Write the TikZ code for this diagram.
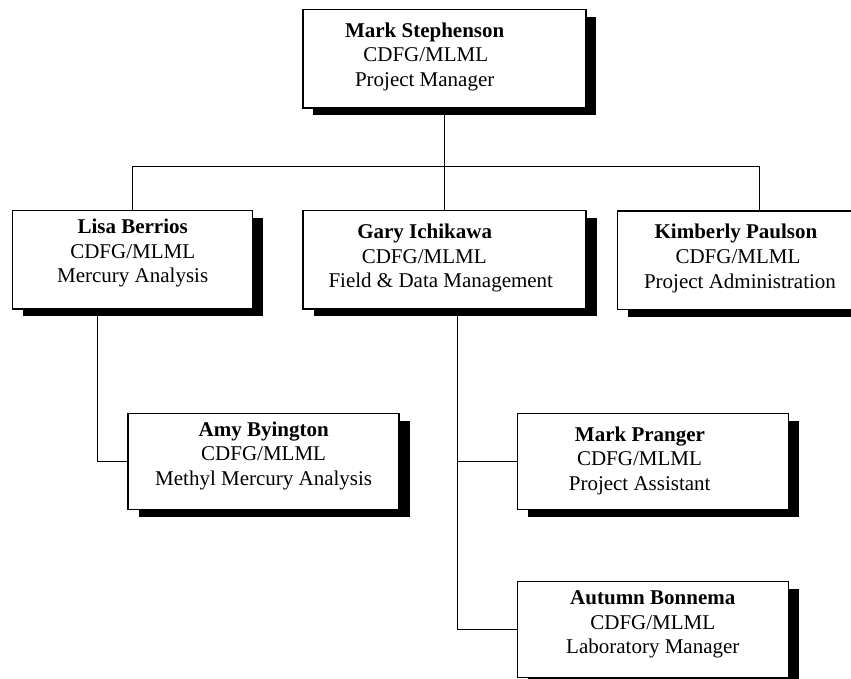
\documentclass[tikz,border=0pt]{standalone}
\usepackage{fontspec}
\setmainfont{Liberation Serif}
\usetikzlibrary{positioning,shadows,calc}

\newcommand{\padr}[1]{\rule{#1}{0pt}}

\begin{document}
\begin{tikzpicture}[x=0.75pt, y=-0.75pt]

\tikzset{
  person/.style={
    rectangle, draw, line width=1pt, fill=white, align=center,
    inner sep=0pt, text height=48.3pt,
    font=\fontsize{15.75pt}{18.5pt}\selectfont,
    drop shadow={shadow xshift=7.9pt, shadow yshift=-5.6pt,
                 fill=black, opacity=1}
  },
  wide/.style={person, minimum width=212.25pt, minimum height=73.9pt},
  narrow/.style={person, minimum width=180pt, minimum height=73.9pt},
  lower/.style={person, minimum width=203.25pt, minimum height=72pt},
  wire/.style={line width=1pt}
}

\useasboundingbox (0,0) rectangle (851,679);
\clip (0,0) rectangle (851,679);

% ==========================
% Top: project manager
% ==========================
\node[wide, text depth=6.4pt] (boss) at (444.35,58.65)
  {\textbf{Mark Stephenson}\padr{29.5pt}\\ CDFG/MLML\padr{27.8pt}\\ Project Manager\padr{29.5pt}};

% ==========================
% Middle row
% ==========================
\node[narrow, text depth=13.7pt] (lisa) at (132.7,259.75)
  {\textbf{Lisa Berrios}\\ CDFG/MLML\\ Mercury Analysis};
\node[wide, text depth=6.4pt] (gary) at (444.65,259.75)
  {\textbf{Gary Ichikawa}\padr{30pt}\\ CDFG/MLML\padr{30.7pt}\\ Field \& Data Management\padr{5.8pt}};
\node[wide, text depth=6.4pt] (kim) at (759.3,260.2)
  {\textbf{Kimberly Paulson}\padr{35pt}\\ CDFG/MLML\padr{32pt}\\ Project Administration\padr{29pt}};

% ==========================
% Lower boxes
% ==========================
\node[lower, text depth=11.9pt] (amy) at (263.65,461.3)
  {\textbf{Amy Byington}\\ CDFG/MLML\\ Methyl Mercury Analysis};
\node[lower, text depth=4.5pt] (pranger) at (653.3,461.3)
  {\textbf{Mark Pranger}\padr{20pt}\\ CDFG/MLML\padr{20.7pt}\\ Project Assistant\padr{20.4pt}};
\node[lower, text depth=11.9pt] (autumn) at (652.8,629.7)
  {\textbf{Autumn Bonnema}\\ CDFG/MLML\\ Laboratory Manager};

% Connectors
\coordinate (bus) at (0,166.7);
\draw[wire] (boss.south) -- (boss.south |- bus);
\draw[wire] (lisa.north) |- (kim.north |- bus) -- (kim.north);
\draw[wire] (gary.north) -- (gary.north |- bus);

\coordinate (lisaTap) at ($(lisa.south)+(-35,0)$);
\draw[wire] (lisaTap) |- (amy.west);

\coordinate (garyTap) at ($(gary.south)+(13,0)$);
\draw[wire] (garyTap) |- (autumn.west);
\draw[wire] (garyTap |- pranger.west) -- (pranger.west);

\end{tikzpicture}
\end{document}
